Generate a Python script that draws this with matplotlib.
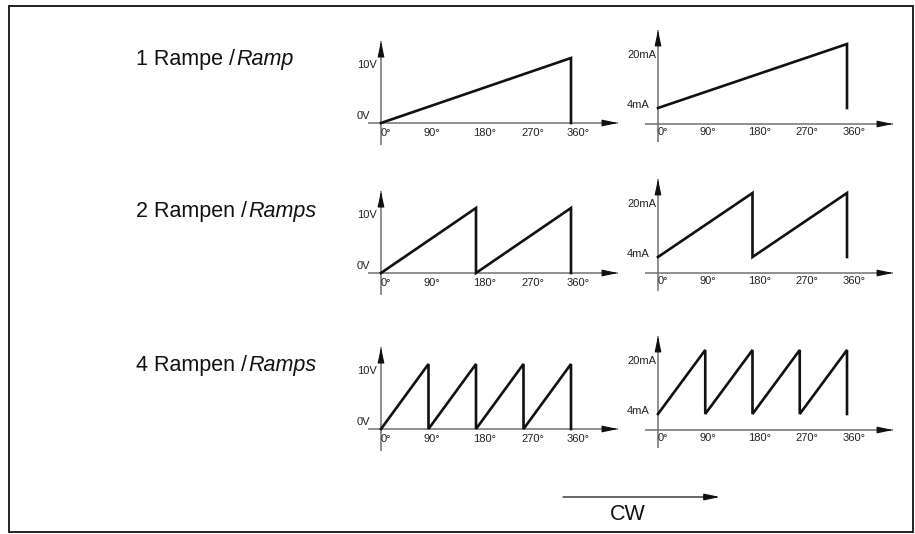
import matplotlib.pyplot as plt
from matplotlib.patches import Rectangle

plt.rcParams["font.family"] = ["Liberation Sans", "DejaVu Sans"]

W, H, DPI = 915, 534, 100

# ---- data ---------------------------------------------------------------
degree_ticks = [0, 90, 180, 270, 360]
degree_labels = ["0°", "90°", "180°", "270°", "360°"]

row_titles = ["1 Rampe /", "2 Rampen /", "4 Rampen /"]
row_titles_en = ["Ramp", "Ramps", "Ramps"]

# voltage output, 0..10 V
volt_deg = [
    [0, 360, 360],
    [0, 180, 180, 360, 360],
    [0, 90, 90, 180, 180, 270, 270, 360, 360],
]
volt_val = [
    [0, 10, 0],
    [0, 10, 0, 10, 0],
    [0, 10, 0, 10, 0, 10, 0, 10, 0],
]
volt_labels = ["0V", "10V"]
volt_levels = [0, 10]

# current output, 4..20 mA
curr_deg = [
    [0, 360, 360],
    [0, 180, 180, 360, 360],
    [0, 90, 90, 180, 180, 270, 270, 360, 360],
]
curr_val = [
    [4, 20, 4],
    [4, 20, 4, 20, 4],
    [4, 20, 4, 20, 4, 20, 4, 20, 4],
]
curr_labels = ["4mA", "20mA"]
curr_levels = [4, 20]

# ---- layout (pixels of the 915x534 picture) -----------------------------
row_axis_y_left = [123, 273, 429]
row_axis_y_right = [124, 273, 430]
row_title_y = [60, 211, 366]

AXIS_GRAY = "#707070"
INK = "#111111"
TICK_FS = 8
TITLE_FS = 15.5

fig = plt.figure(figsize=(W / DPI, H / DPI), dpi=DPI)


def make_axes(x0_px, y0_px, sx, sy, xlim, ylim):
    """Axes whose data origin sits at pixel (x0_px, y0_px)."""
    left = (x0_px + xlim[0] * sx) / W
    width = (xlim[1] - xlim[0]) * sx / W
    bottom = (H - (y0_px - ylim[0] * sy)) / H
    height = (ylim[1] - ylim[0]) * sy / H
    ax = fig.add_axes([left, bottom, width, height])
    ax.set_xlim(*xlim)
    ax.set_ylim(*ylim)
    ax.axis("off")
    return ax


def arrow_head(ax, xy, direction):
    dx, dy = direction
    ax.annotate("", xy=xy, xytext=(-dx * 10, -dy * 10), textcoords="offset points",
                arrowprops=dict(arrowstyle="-|>,head_length=0.95,head_width=0.2",
                                color=INK, lw=0.8, shrinkA=0, shrinkB=0))


def draw_panel(ax, deg, val, labels, levels, xaxis, yaxis, label_dx, label_dy, tick_dx, tick_dy):
    ax.plot(xaxis, [0, 0], color=AXIS_GRAY, lw=1.1, solid_capstyle="butt")
    ax.plot([0, 0], yaxis, color=AXIS_GRAY, lw=1.1, solid_capstyle="butt")
    arrow_head(ax, (xaxis[1], 0), (1, 0))
    arrow_head(ax, (0, yaxis[1]), (0, 1))
    ax.plot(deg, val, color=INK, lw=1.9, solid_joinstyle="miter")
    for lab, lev, dy in zip(labels, levels, label_dy):
        ax.annotate(lab, xy=(0, lev), xytext=(label_dx, dy), textcoords="offset pixels",
                    ha="left", va="center", fontsize=TICK_FS, color="#222222")
    for t, lab, dx in zip(degree_ticks, degree_labels, tick_dx):
        ax.annotate(lab, xy=(t, 0), xytext=(dx, tick_dy), textcoords="offset pixels",
                    ha="center", va="center", fontsize=TICK_FS, color="#222222")


for r in range(3):
    axl = make_axes(381, row_axis_y_left[r], 190 / 360, 6.5, (-30, 460), (-4, 13.5))
    draw_panel(axl, volt_deg[r], volt_val[r], volt_labels, volt_levels,
               xaxis=(-24.6, 449), yaxis=(-3.4, 12.6),
               label_dx=-24, label_dy=[7, -7],
               tick_dx=[5, 3, 9, 9, 7], tick_dy=-10)

    axr = make_axes(658, row_axis_y_right[r], 189 / 360, 4.0, (-30, 460), (-6, 25))
    draw_panel(axr, curr_deg[r], curr_val[r], curr_labels, curr_levels,
               xaxis=(-24.8, 447.6), yaxis=(-4.5, 23.5),
               label_dx=-31, label_dy=[3, -11],
               tick_dx=[5, 3, 7, 7, 7], tick_dy=-8)

    # row title: plain German part followed by italic English part
    t1 = fig.text(136 / W, 1 - row_title_y[r] / H, row_titles[r], ha="left", va="center",
                  fontsize=TITLE_FS, color=INK)
    fig.add_artist(plt.Annotation(row_titles_en[r], xy=(1, 0), xycoords=t1,
                                  xytext=(1, 0), textcoords="offset pixels",
                                  ha="left", va="bottom", fontsize=TITLE_FS,
                                  style="italic", color=INK))

# direction arrow
axc = fig.add_axes([0, 0, 1, 1])
axc.set_xlim(0, W)
axc.set_ylim(H, 0)
axc.axis("off")
axc.annotate("", xy=(720, 497), xytext=(563, 497),
             arrowprops=dict(arrowstyle="-|>,head_length=0.95,head_width=0.2",
                             color=INK, lw=0.9, shrinkA=0, shrinkB=0))
axc.text(628, 515, "CW", ha="center", va="center", fontsize=TITLE_FS, color=INK)

# outer frame
fig.add_artist(Rectangle((9 / W, 1 - 532 / H), (913 - 9) / W, (532 - 6) / H,
                         transform=fig.transFigure, fill=False, lw=1.4,
                         edgecolor="#222222"))

fig.savefig("out.png", dpi=DPI)
